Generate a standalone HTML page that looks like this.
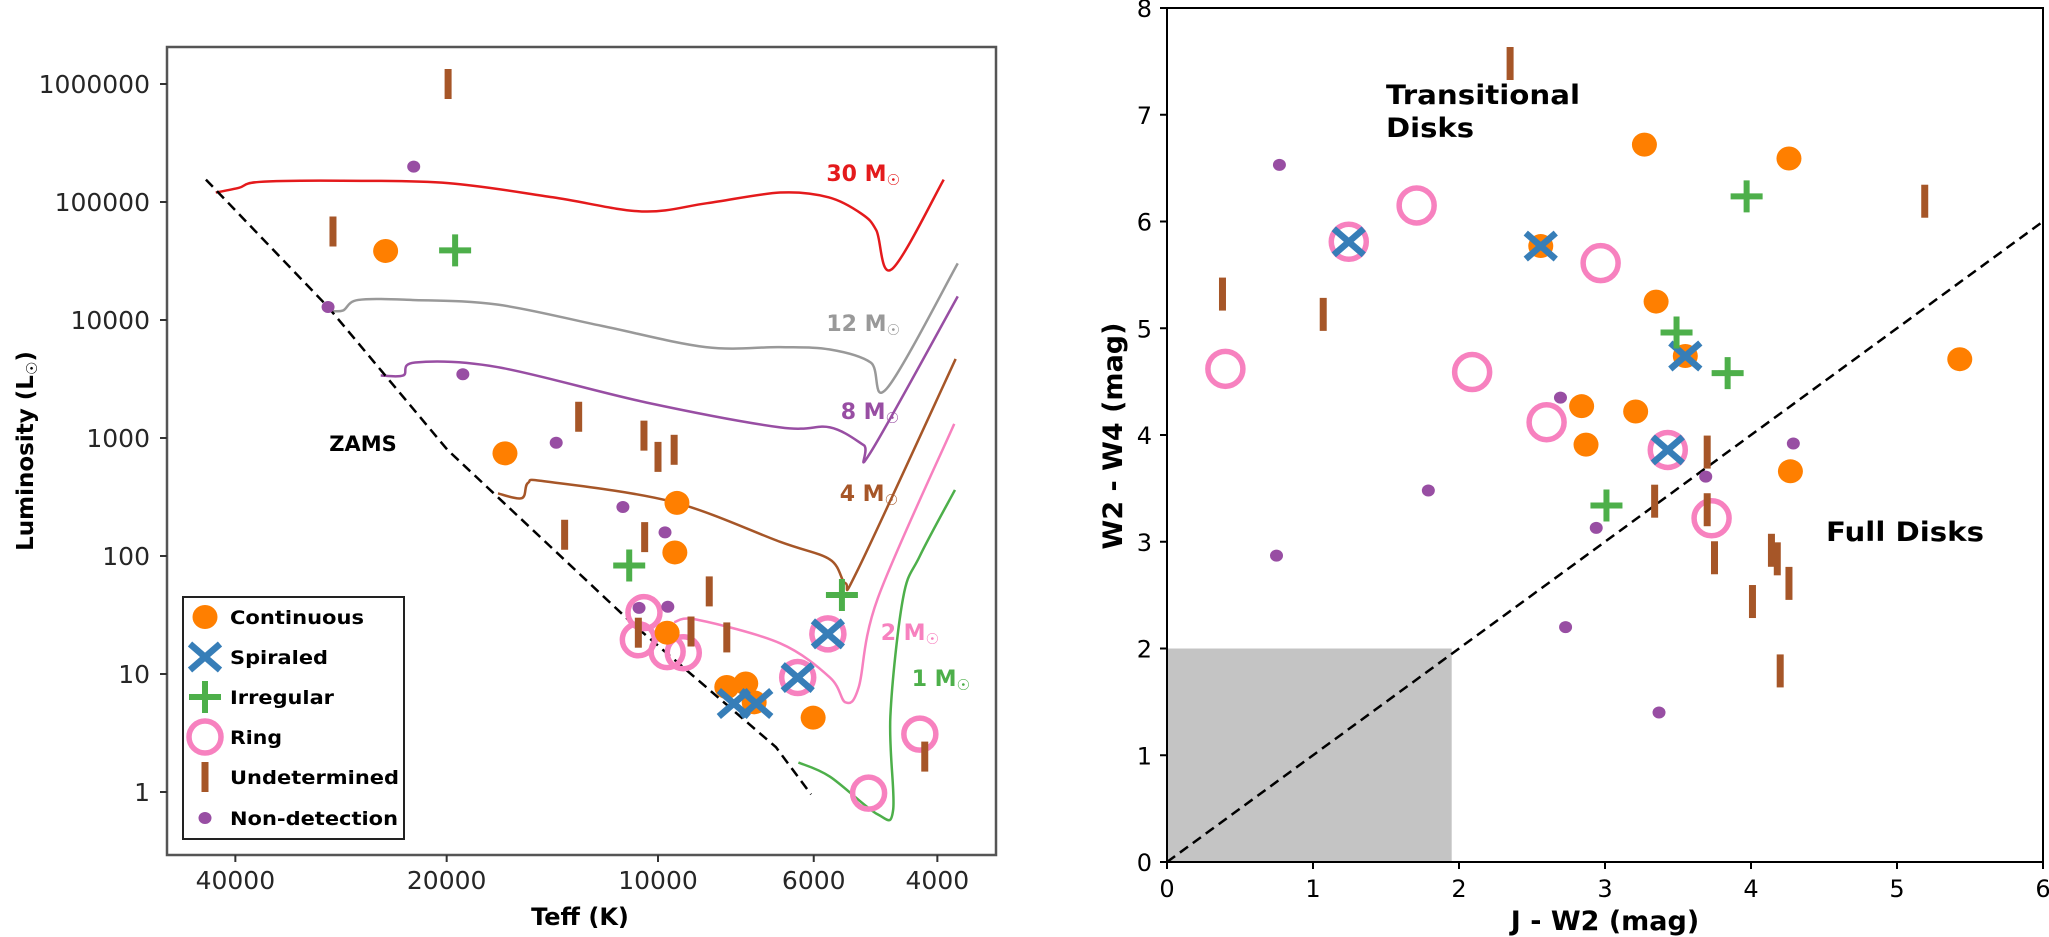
<!DOCTYPE html>
<html><head><meta charset="utf-8"><style>
html,body{margin:0;padding:0;background:#fff;}
svg{display:block;font-family:"DejaVu Sans","Liberation Sans",sans-serif;}
</style></head><body>
<svg id="fig" width="2049" height="937" viewBox="0 0 2049 937" xmlns="http://www.w3.org/2000/svg">
<g id="left"></g>
<g id="right"></g>
</svg>
<script>
// ---------- LEFT PANEL DATA (log10 Teff, log10 L) ----------
const yTickValues = [0,1,2,3,4,5,6];
const yTickLabels = ["1","10","100","1000","10000","100000","1000000"];
const xTickValues = [40000,20000,10000,6000,4000];
const xTickLabels = ["40000","20000","10000","6000","4000"];
const hrContinuous = [[4.388,4.585],[4.218,2.87],[3.973,2.45],[3.976,2.03],[3.987,1.35],[3.902,0.89],[3.875,0.92],[3.863,0.76],[3.779,0.63]];
const hrSpiraled = [[3.892,0.75],[3.860,0.75],[3.801,0.97],[3.758,1.34]];
const hrIrregular = [[4.289,4.59],[4.041,1.92],[3.738,1.67]];
const hrRing = [[4.020,1.52],[4.028,1.29],[3.987,1.19],[3.964,1.18],[3.801,0.97],[3.758,1.34],[3.70,-0.01],[3.627,0.49]];
const hrUndetermined = [[4.299,6.0],[4.463,4.75],[4.113,3.18],[4.02,3.02],[4.0,2.84],[3.977,2.90],[4.133,2.18],[4.019,2.16],[3.927,1.70],[4.028,1.35],[3.953,1.36],[3.902,1.31],[3.620,0.30]];
const hrNonDetection = [[4.348,5.30],[4.470,4.11],[4.278,3.54],[4.145,2.96],[4.050,2.415],[3.99,2.20],[4.027,1.56],[3.986,1.57]];
const zamsLine = [[4.644,5.19],[4.470,4.11],[4.30,2.90],[4.037,1.43],[3.832,0.38],[3.782,-0.02]];
const track30 = [[4.630,5.08],[4.597,5.12],[4.568,5.17],[4.45,5.18],[4.299,5.16],[4.15,5.04],[4.023,4.92],[3.93,4.99],[3.826,5.08],[3.757,5.04],[3.71,4.90],[3.689,4.76],[3.667,4.43],[3.593,5.19]];
const track12 = [[4.470,4.08],[4.449,4.08],[4.427,4.17],[4.35,4.17],[4.228,4.13],[4.08,3.95],[3.932,3.77],[3.826,3.77],[3.755,3.75],[3.697,3.64],[3.674,3.42],[3.573,4.48]];
const track8 = [[4.395,3.53],[4.363,3.53],[4.346,3.64],[4.228,3.60],[4.016,3.30],[3.826,3.09],[3.755,3.09],[3.707,2.94],[3.697,2.88],[3.573,4.20]];
const track4 = [[4.228,2.53],[4.194,2.49],[4.185,2.62],[4.158,2.63],[3.980,2.46],[3.826,2.12],[3.755,1.97],[3.733,1.77],[3.714,1.90],[3.576,3.67]];
const track2 = [[3.977,1.44],[3.944,1.46],[3.826,1.26],[3.755,0.97],[3.733,0.76],[3.714,0.89],[3.687,1.64],[3.578,3.12]];
const track1 = [[3.80,0.25],[3.755,0.13],[3.687,-0.19],[3.665,-0.15],[3.669,0.64],[3.651,1.64],[3.627,2.0],[3.577,2.56]];
const trackNames = ["30","12","8","4","2","1"];

// ---------- RIGHT PANEL DATA (J-W2, W2-W4) ----------
const rxTicks = [0,1,2,3,4,5,6];
const ryTicks = [0,1,2,3,4,5,6,7,8];
const ccContinuous = [[3.27,6.72],[4.26,6.59],[2.56,5.77],[3.35,5.25],[3.55,4.74],[5.43,4.71],[2.84,4.27],[3.21,4.22],[2.87,3.91],[4.27,3.66]];
const ccSpiraled = [[1.245,5.81],[2.56,5.77],[3.55,4.74],[3.43,3.86]];
const ccIrregular = [[3.97,6.235],[3.49,4.96],[3.84,4.58],[3.01,3.34]];
const ccRing = [[1.71,6.15],[1.245,5.81],[2.97,5.61],[0.40,4.62],[2.09,4.59],[2.60,4.12],[3.43,3.86],[3.73,3.22]];
const ccUndetermined = [[2.35,7.48],[0.38,5.32],[1.07,5.13],[5.19,6.19],[3.70,3.84],[3.34,3.38],[3.70,3.30],[3.75,2.85],[4.14,2.92],[4.18,2.84],[4.26,2.61],[4.01,2.44],[4.20,1.79]];
const ccNonDetection = [[0.77,6.53],[2.695,4.35],[1.79,3.48],[0.75,2.87],[2.73,2.20],[4.29,3.92],[3.69,3.61],[2.94,3.13],[3.37,1.40]];
const shadeBox = [1.95,2.0];

const NS="http://www.w3.org/2000/svg";
const C={cont:"#ff7f00",spir:"#377eb8",irr:"#4daf4a",ring:"#f781bf",und:"#a65628",non:"#984ea3"};
function mk(parent,tag,attrs){const e=document.createElementNS(NS,tag);for(const k in attrs)e.setAttribute(k,attrs[k]);parent.appendChild(e);return e;}

// axis functions
const hx = lt => 658 + (4 - lt)*702;
const hy = ll => 792 - ll*118;
const rx = u => 1167 + 146*u;
const ry = v => 862 - 106.75*v;

function smoothPath(pts){
  let d="M"+pts[0][0]+","+pts[0][1];
  for(let i=0;i<pts.length-1;i++){
    const p0=pts[Math.max(i-1,0)],p1=pts[i],p2=pts[i+1],p3=pts[Math.min(i+2,pts.length-1)];
    const c1x=p1[0]+(p2[0]-p0[0])/6,c1y=p1[1]+(p2[1]-p0[1])/6;
    const c2x=p2[0]-(p3[0]-p1[0])/6,c2y=p2[1]-(p3[1]-p1[1])/6;
    d+=` C${c1x},${c1y} ${c2x},${c2y} ${p2[0]},${p2[1]}`;
  }
  return d;
}

function drawMarker(g,type,x,y,big){
  let e;
  if(type==="cont"){e=mk(g,"ellipse",{cx:x,cy:y,rx:12.5,ry:12,fill:C.cont});}
  else if(type==="ring"){e=mk(g,"circle",{cx:x,cy:y,r:big?17.5:16,fill:"none",stroke:C.ring,"stroke-width":5.5});}
  else if(type==="spir"){e=mk(g,"path",{d:`M${x-15},${y-13}L${x+15},${y+13}M${x-15},${y+13}L${x+15},${y-13}`,stroke:C.spir,"stroke-width":6.5,fill:"none"});}
  else if(type==="irr"){e=mk(g,"path",{d:`M${x-16},${y}L${x+16},${y}M${x},${y-16}L${x},${y+16}`,stroke:C.irr,"stroke-width":6,fill:"none"});}
  else if(type==="und"){const h=big?33:30;e=mk(g,"rect",{x:x-3.5,y:y-h/2,width:7,height:h,fill:C.und});}
  else {e=mk(g,"ellipse",{cx:x,cy:y,rx:6.5,ry:6,fill:C.non});}
  return e;
}

// ================= LEFT PANEL =================
const L=document.getElementById("left");
const lframe=mk(L,"rect",{x:167,y:47,width:829,height:808,fill:"#fff",stroke:"#555","stroke-width":2.5});



yTickValues.forEach((v,i)=>{
  const y=hy(v);
  const t=mk(L,"line",{x1:160,y1:y,x2:167,y2:y,stroke:"#333","stroke-width":2});
  
  
  const tx=mk(L,"text",{x:150,y:y+9,"text-anchor":"end","font-size":25,fill:"#262626"});
  tx.textContent=yTickLabels[i];
  
  
});
xTickValues.forEach((v,i)=>{
  const x=hx(Math.log10(v));
  const t=mk(L,"line",{x1:x,y1:855,x2:x,y2:862,stroke:"#333","stroke-width":2});
  
  
  const tx=mk(L,"text",{x:x,y:889,"text-anchor":"middle","font-size":25,fill:"#262626"});
  tx.textContent=xTickLabels[i];
  
  
});

const toPix = arr => arr.map(p=>[hx(p[0]),hy(p[1])]);
const tracks=[track30,track12,track8,track4,track2,track1];
const trackColors=["#e41a1c","#999999","#984ea3","#a65628","#f781bf","#4daf4a"];
tracks.forEach((tr,i)=>{
  const p=mk(L,"path",{d:smoothPath(toPix(tr)),fill:"none",stroke:trackColors[i],"stroke-width":2.5});
  
  
});
const z=mk(L,"path",{d:"M"+toPix(zamsLine).map(p=>p.join(",")).join(" L"),fill:"none",stroke:"#000","stroke-width":2.5,"stroke-dasharray":"10,6"});



// track labels
const labelPos=[[900,181],[900,331],[899,419],[898,501],[939,640],[970,686]];
trackNames.forEach((n,i)=>{
  const t=mk(L,"text",{x:labelPos[i][0],y:labelPos[i][1],"text-anchor":"end","font-size":22,"font-weight":"bold",fill:trackColors[i]});
  t.innerHTML=n+" M<tspan font-size='15' font-weight='normal' dy='4'>☉</tspan>";
  
  
});
const zl=mk(L,"text",{x:363,y:451,"text-anchor":"middle","font-size":21,"font-weight":"bold",fill:"#000"});
zl.textContent="ZAMS";



function drawSeries(g,arr,type,fx,fy,big,name){
  arr.forEach(p=>{
    const e=drawMarker(g,type,fx(p[0]),fy(p[1]),big);
    
    
  });
}
drawSeries(L,hrRing,"ring",hx,hy,false,"ring-point");
drawSeries(L,hrContinuous,"cont",hx,hy,false,"continuous-point");
drawSeries(L,hrSpiraled,"spir",hx,hy,false,"spiraled-point");
drawSeries(L,hrIrregular,"irr",hx,hy,false,"irregular-point");
drawSeries(L,hrUndetermined,"und",hx,hy,false,"undetermined-point");
drawSeries(L,hrNonDetection,"non",hx,hy,false,"non-detection-point");

// legend
const lg=mk(L,"g",{});


mk(lg,"rect",{x:183,y:597,width:221,height:242,fill:"#fff",stroke:"#222","stroke-width":2});
const legItems=[["cont","Continuous",134],["spir","Spiraled",98],["irr","Irregular",104],["ring","Ring",52],["und","Undetermined",169],["non","Non-detection",168]];
const legY=[617,657,697,737,777,818];
legItems.forEach((it,i)=>{
  const m=drawMarker(lg,it[0],205,legY[i],false);
  
  
  const t=mk(lg,"text",{x:230,y:legY[i]+7,"font-size":19,"font-weight":"bold",fill:"#000",textLength:it[2],lengthAdjust:"spacingAndGlyphs"});
  t.textContent=it[1];
  
  
});

const yl=mk(L,"text",{transform:"translate(33,451) rotate(-90)","text-anchor":"middle","font-size":23,"font-weight":"bold",fill:"#000"});
yl.innerHTML="Luminosity (L<tspan font-size='15' font-weight='normal' dy='4'>☉</tspan><tspan dy='-4'>)</tspan>";


const xl=mk(L,"text",{x:580,y:925,"text-anchor":"middle","font-size":24,"font-weight":"bold",fill:"#000"});
xl.textContent="Teff (K)";



// ================= RIGHT PANEL =================
const R=document.getElementById("right");
const sh=mk(R,"rect",{x:rx(0),y:ry(shadeBox[1]),width:rx(shadeBox[0])-rx(0),height:ry(0)-ry(shadeBox[1]),fill:"#c4c4c4"});


const dl=mk(R,"line",{x1:rx(0),y1:ry(0),x2:rx(6),y2:ry(6),stroke:"#000","stroke-width":2.5,"stroke-dasharray":"10,6"});


const rf=mk(R,"rect",{x:rx(0),y:ry(8),width:rx(6)-rx(0),height:ry(0)-ry(8),fill:"none",stroke:"#000","stroke-width":2});


rxTicks.forEach(v=>{
  const x=rx(v);
  const t=mk(R,"line",{x1:x,y1:862,x2:x,y2:869,stroke:"#000","stroke-width":2});
  
  
  const tx=mk(R,"text",{x:x,y:897,"text-anchor":"middle","font-size":24,fill:"#000"});
  tx.textContent=String(v);
  
  
});
ryTicks.forEach(v=>{
  const y=ry(v);
  const t=mk(R,"line",{x1:1160,y1:y,x2:1167,y2:y,stroke:"#000","stroke-width":2});
  
  
  const tx=mk(R,"text",{x:1152,y:y+9,"text-anchor":"end","font-size":24,fill:"#000"});
  tx.textContent=String(v);
  
  
});
drawSeries(R,ccRing,"ring",rx,ry,true,"ring-point");
drawSeries(R,ccContinuous,"cont",rx,ry,true,"continuous-point");
drawSeries(R,ccSpiraled,"spir",rx,ry,true,"spiraled-point");
drawSeries(R,ccIrregular,"irr",rx,ry,true,"irregular-point");
drawSeries(R,ccUndetermined,"und",rx,ry,true,"undetermined-point");
drawSeries(R,ccNonDetection,"non",rx,ry,true,"non-detection-point");

const t1=mk(R,"text",{x:1386,y:104,"font-size":27,"font-weight":"bold",fill:"#000",textLength:194,lengthAdjust:"spacingAndGlyphs"});
t1.textContent="Transitional";


const t2=mk(R,"text",{x:1386,y:137,"font-size":27,"font-weight":"bold",fill:"#000",textLength:88,lengthAdjust:"spacingAndGlyphs"});
t2.textContent="Disks";


const t3=mk(R,"text",{x:1826,y:541,"font-size":27,"font-weight":"bold",fill:"#000",textLength:158,lengthAdjust:"spacingAndGlyphs"});
t3.textContent="Full Disks";


const ryl=mk(R,"text",{transform:"translate(1122,436) rotate(-90)","text-anchor":"middle","font-size":27,"font-weight":"bold",fill:"#000"});
ryl.textContent="W2 - W4 (mag)";


const rxl=mk(R,"text",{x:1605,y:930,"text-anchor":"middle","font-size":27,"font-weight":"bold",fill:"#000"});
rxl.textContent="J - W2 (mag)";


</script>
</body></html>
